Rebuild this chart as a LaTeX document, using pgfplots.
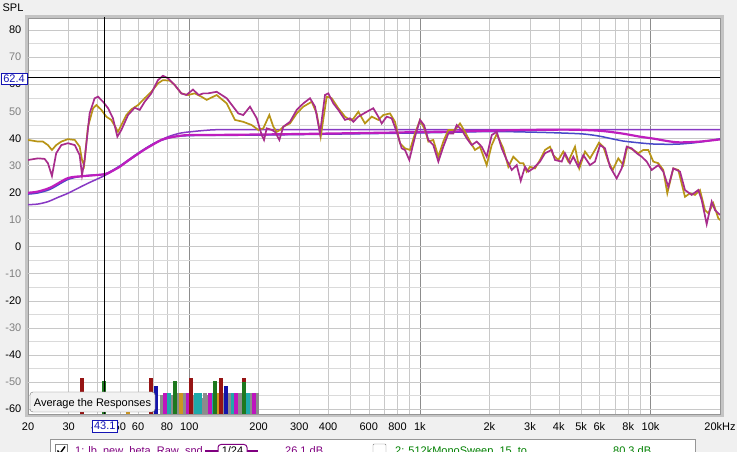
\documentclass[border=0pt]{standalone}
\usepackage{pgfplots}
\pgfplotsset{compat=1.18}
\usepackage{fontspec}
\setmainfont{Liberation Sans}
\definecolor{bgc}{RGB}{240,240,240}
\definecolor{shadowc}{RGB}{196,196,196}
\definecolor{framec}{RGB}{150,150,150}
\definecolor{gridc}{RGB}{200,200,200}
\definecolor{gridlc}{RGB}{218,218,218}
\definecolor{decadec}{RGB}{140,140,140}
\definecolor{goldc}{RGB}{184,148,22}
\definecolor{rawmag}{RGB}{168,44,140}
\definecolor{smag}{RGB}{190,30,190}
\definecolor{spurple}{RGB}{136,56,196}
\definecolor{sblue}{RGB}{72,72,200}
\definecolor{bdarkred}{RGB}{150,20,20}
\definecolor{bgreen}{RGB}{30,120,30}
\definecolor{bblue}{RGB}{20,20,170}
\definecolor{bmag}{RGB}{190,20,190}
\definecolor{bteal}{RGB}{30,170,170}
\definecolor{bgold}{RGB}{205,150,30}
\definecolor{bgray}{RGB}{140,140,140}
\definecolor{tipborder}{RGB}{118,118,118}
\definecolor{tipfill}{RGB}{242,242,242}
\definecolor{curblue}{RGB}{20,20,180}
\definecolor{legpurple}{RGB}{128,0,128}
\definecolor{leggreen}{RGB}{0,128,0}
\begin{document}
\begin{tikzpicture}[x=1pt,y=1pt,font=\fontsize{11}{13}\selectfont]
\begin{scope}
\clip (0,0) rectangle (737,452);
\fill[bgc] (0,0) rectangle (737,452);
\fill[shadowc] (25,35) rectangle (724,437);
\begin{axis}[
  at={(28pt,38pt)}, anchor=south west, scale only axis,
  width=692pt, height=396pt,
  xmode=log, xmin=20, xmax=20000, ymin=-61.84, ymax=84.45,
  axis background/.style={fill=white},
  axis line style={draw=framec},
  tick style={draw=none}, major tick length=0pt, minor tick length=0pt,
  xtick={100,1000,10000}, xticklabels={,,},
  minor xtick={20,30,40,50,60,70,80,90,200,300,400,500,600,700,800,900,2000,3000,4000,5000,6000,7000,8000,9000},
  extra x ticks={20,30,40,50,60,80,100,200,300,400,600,800,1000,2000,3000,4000,5000,6000,8000,10000,20000},
  extra x tick labels={20,30,40,50,60,80,100,200,300,400,600,800,1k,2k,3k,4k,5k,6k,8k,10k,20kHz},
  extra x tick style={grid=none},
  xticklabel style={anchor=north, inner sep=0pt, yshift=-8pt, text height=8pt, text depth=0pt},
  ytick={-60,-40,-20,0,20,40,60,80},
  yticklabels={-60,-40,-20,0,20,40,60,80},
  extra y ticks={-50,-30,-10,10,30,50,70},
  extra y tick labels={-50,-30,-10,10,30,50,70},
  extra y tick style={yticklabel style={text=gray}},
  minor ytick={-55,-45,-35,-25,-15,-5,5,15,25,35,45,55,65,75},
  yticklabel style={anchor=east, inner sep=0pt, xshift=-6.5pt},
  grid=both,
  major x grid style={draw=decadec},
  minor x grid style={draw=gridc},
  major y grid style={draw=gridc},
  minor y grid style={draw=gridlc},
  unbounded coords=jump,
]
% ---- bars (peak markers), one segment per bar, separated by nan ----
\addplot[bgray, line width=4pt] coordinates {(76,-61.84)(76,-55)(76,nan)(84,-61.84)(84,-55)(84,nan)(89.4,-61.84)(89.4,-54)(89.4,nan)(95.9,-61.84)(95.9,-54)(95.9,nan)(104,-61.84)(104,-55)(104,nan)(109,-61.84)(109,-55)(109,nan)(114.7,-61.84)(114.7,-55.8)(114.7,nan)(117.1,-61.84)(117.1,-54)(117.1,nan)(120,-61.84)(120,-55)(120,nan)(136,-61.84)(136,-54)(136,nan)(141,-61.84)(141,-54)(141,nan)(148.7,-61.84)(148.7,-54)(148.7,nan)(152,-61.84)(152,-54)(152,nan)(157,-61.84)(157,-54)(157,nan)(162,-61.84)(162,-54)(162,nan)(166.0,-61.84)(166.0,-54)(166.0,nan)(170,-61.84)(170,-54)(170,nan)(176,-61.84)(176,-54)(176,nan)(183,-61.84)(183,-54)(183,nan)(187,-61.84)(187,-54)(187,nan)(194,-61.84)(194,-54)(194,nan)(197,-61.84)(197,-54)};
\addplot[bgold, line width=4pt] coordinates {(54.3,-61.84)(54.3,-56)(54.3,nan)(92.1,-61.84)(92.1,-54)(92.1,nan)(133.3,-61.84)(133.3,-54)};
\addplot[bteal, line width=4pt] coordinates {(81.7,-61.84)(81.7,-54)(81.7,nan)(106.9,-61.84)(106.9,-54)(106.9,nan)(111.4,-61.84)(111.4,-54)(111.4,nan)(125.5,-61.84)(125.5,-54)(125.5,nan)(154.8,-61.84)(154.8,-54)(154.8,nan)(179.8,-61.84)(179.8,-54)};
\addplot[bmag, line width=4pt] coordinates {(78.5,-61.84)(78.5,-54)(78.5,nan)(98.8,-61.84)(98.8,-54)(98.8,nan)(123.1,-61.84)(123.1,-54)(123.1,nan)(159.5,-61.84)(159.5,-54)(159.5,nan)(190.9,-61.84)(190.9,-54)};
\addplot[bblue, line width=4pt] coordinates {(71.8,-61.84)(71.8,-51.5)(71.8,nan)(144.3,-61.84)(144.3,-51.5)};
\addplot[bdarkred, line width=4pt] coordinates {(34.3,-61.84)(34.3,-48.65)(34.3,nan)(68.3,-61.84)(68.3,-48.65)(68.3,nan)(101.8,-61.84)(101.8,-48.65)(101.8,nan)(137.3,-61.84)(137.3,-48.65)(137.3,nan)(172.8,-61.84)(172.8,-48.65)};
\addplot[bgreen, line width=4pt] coordinates {(42.7,-61.84)(42.7,-49.5)(42.7,nan)(86.8,-61.84)(86.8,-49.5)(86.8,nan)(129.4,-61.84)(129.4,-49.5)(129.4,nan)(172.8,-61.84)(172.8,-50.2)};
% ---- smoothed curves ----
\addplot[spurple, line width=1.5pt, smooth] coordinates {(20,15.5)(22,15.7)(24.4,16.6)(27,18.2)(29.8,19.7)(33,21.6)(36.4,23.4)(40,25)(43.3,26.4)(48,28.6)(54.3,31.6)(60,34.2)(64.1,35.9)(70,38)(75.7,39.5)(82.3,40.8)(91.2,41.9)(100.8,42.4)(120,43)(140,43.2)(300,43.2)(1000,43.2)(5000,43.2)(20000,43.2)};
\addplot[sblue, line width=1.5pt, smooth] coordinates {(20,19.4)(22,19.8)(25,21.2)(29.8,24.8)(34.3,26)(38,26.4)(43.3,26.9)(50,29.8)(60,34.5)(70,38)(82,40.2)(100,41)(200,41.2)(1000,42)(2000,42.5)(3000,42.3)(4000,42)(5110,41.6)(6000,40.8)(7000,39.6)(7600,39)(9000,38.3)(10276,37.9)(12000,37.8)(13400,37.9)(16000,38.5)(20000,39.8)};
\addplot[smag, line width=2.2pt, smooth] coordinates {(20,19.9)(22,20.3)(25,21.8)(29.8,25.3)(34.3,26)(38,26.3)(43.3,26.8)(46,27.8)(50,29.5)(54.3,31.8)(60,34.3)(64.1,35.9)(70,37.8)(75.7,39.4)(82.3,40.3)(91,40.9)(100,41.2)(150,41.3)(300,41.6)(1000,42.3)(2000,42.8)(3000,43.1)(4500,43.2)(6000,42.8)(7500,41.8)(9000,40.6)(10276,39.9)(12000,38.9)(13400,38.5)(16400,38.8)(20000,39.6)};
% ---- raw responses ----
\addplot[goldc, line width=1.7pt] coordinates {(20,39.4)(22.1,38.8)(23.2,38.8)(24.4,37.5)(25.4,35.7)(26.5,37.5)(27.9,38.8)(29.8,39.7)(31.9,39.4)(33.5,36.9)(34.3,32)(35.0,30)(36.4,44.3)(38.3,51.1)(39.6,52.3)(41.6,50.5)(43.7,48)(45.9,46.8)(47.8,44.3)(49.1,42.4)(50.8,44.9)(53.4,48.6)(56.1,50.7)(60.0,52.3)(64.1,54.8)(68.5,57.2)(73.2,60.3)(76.9,61.5)(82.3,61.3)(86.5,59.7)(92.4,56.6)(98.8,56)(105.6,56.6)(112.8,55.4)(119.1,54.2)(131.5,56)(145.4,52.9)(157.9,46.8)(171.5,46.1)(186.6,44.9)(199.3,43.1)(209.5,43.7)(222.4,48.6)(231.5,44.3)(239.5,42.4)(247.5,43.1)(255.8,44.3)(273.4,45.5)(292.4,49.2)(312.3,51.7)(339.6,53.5)(357,49.2)(371.5,40.6)(394.5,55.4)(414.7,54.8)(442.9,51.1)(473.5,48)(497.7,46.8)(514.4,47.2)(540.7,49.8)(578.1,45.5)(618.1,48)(660.1,46.8)(693.9,48.6)(741.9,49.2)(779.9,46.1)(819.8,38.2)(861.8,36.3)(905.9,35.7)(952.3,41.8)(1001,46.8)(1052,43.1)(1088,38.8)(1143,39.4)(1202,33.2)(1263,38.8)(1328,43.1)(1420,43.1)(1492,45.5)(1569,42.4)(1649,38.8)(1733,35.7)(1822,36.9)(1948,30.1)(2048,37.5)(2153,41.6)(2299,36.3)(2417,29.5)(2541,33.2)(2717,30.8)(2808,30.8)(2904,27.7)(3002,29.5)(3155,28.9)(3316,32)(3486,35.7)(3664,36.9)(3787,33.8)(3981,32)(4184,35.1)(4398,31.4)(4703,36.9)(4910,28.9)(5197,35.1)(5463,32.6)(5742,35.7)(5976,38.4)(6238,36.9)(6558,31.4)(6852,28.3)(7246,32.6)(7617,30.1)(7927,36.9)(8414,35.7)(8846,34.5)(9298,35.7)(9776,35.7)(10276,31.4)(10802,30.8)(11354,28.3)(11817,19.7)(12545,28.9)(13188,28.3)(14099,18.4)(14821,19.7)(15580,19.1)(16377,20.9)(17216,13.5)(17793,12.3)(18704,16)(19661,10.5)(20000,9.8)};
\addplot[rawmag, line width=1.7pt] coordinates {(20,32)(22.1,32.6)(23.6,32.4)(24.4,30.8)(25.4,26.1)(26.5,34.5)(27.9,37.5)(29.8,38.2)(31.9,37.5)(33.5,33.8)(34.3,26.4)(35.2,32)(37.0,49.2)(38.9,54.8)(40.2,55.4)(42.3,53.5)(44.5,51.1)(46.7,47.4)(48.8,40.6)(50.8,43.1)(54.3,48.6)(58.0,51.3)(61.0,50.5)(64.1,53.5)(68.5,56.6)(73.2,61.5)(76.9,63.1)(80.9,62.2)(86.5,59.7)(92.4,56.6)(97.1,56)(103.8,58)(110,56)(115.1,56.6)(120.6,56.6)(131.5,57.2)(145.4,54.8)(163.2,49.2)(171.5,48.6)(183.4,51.7)(196.2,47.4)(206.2,41.2)(211,39.4)(216.7,43.7)(227.8,43.1)(235.4,42.4)(245.8,39.4)(255.8,44.3)(273.4,46.1)(292.4,50.5)(312.3,52.9)(333.9,54.8)(351,51.7)(368.9,41.8)(387.8,56)(400.9,56.6)(421.4,52.9)(442.9,50.5)(473.5,46.8)(497.7,47.4)(514.4,46.1)(540.7,48)(588,49.8)(628.1,51.1)(660.1,48)(682.9,45.5)(717.9,48)(754.6,47.4)(793.2,42.4)(833.8,36.3)(861.8,35.7)(899.6,32)(952.3,40.6)(1001,46.8)(1042,44.9)(1088,39.4)(1143,37.5)(1202,31.4)(1263,36.9)(1328,41.8)(1396,41.8)(1444,44.9)(1518,43.1)(1596,40)(1677,37.5)(1763,38.8)(1854,36.9)(1948,33.2)(2048,41.2)(2153,42.4)(2263,36.3)(2379,32)(2501,28.3)(2629,30.1)(2736,24.3)(2856,29.5)(2951,27.7)(3102,28.9)(3316,31.4)(3486,34.5)(3727,35.7)(3851,32)(4118,31.4)(4256,34.5)(4474,30.8)(4624,33.2)(4861,29.5)(5110,33.8)(5463,30.1)(5742,31.4)(6036,37.5)(6345,36.3)(6670,29.5)(7131,25.2)(7496,28.9)(7880,36.9)(8281,36.3)(8705,34.5)(9151,33.2)(9622,31.4)(10113,28.3)(10802,30.1)(11354,27.7)(11936,22.1)(12545,28.9)(13413,27.7)(14099,20.9)(15075,19.1)(16102,20.9)(16658,17.2)(17511,8.3)(18408,16.6)(19024,13.5)(20000,11.7)};
% ---- cursor lines ----
\addplot[black, line width=0.9pt] coordinates {(43.1,-70)(43.1,90)};
\addplot[black, line width=0.9pt] coordinates {(15,62.4)(25000,62.4)};
\end{axis}
% axis title
\node at (13,444) {SPL};
% cursor value boxes
\node[draw=curblue, fill=white, text=curblue, inner sep=0pt, minimum width=26pt, minimum height=11pt, text height=8pt, text depth=0pt] at (14,373.5) {62.4};
\node[draw=curblue, fill=white, text=curblue, inner sep=0pt, minimum width=25pt, minimum height=12pt, text height=8pt, text depth=0pt] at (104.8,26) {43.1};
% tooltip
\draw[draw=tipborder, fill=tipfill, rounded corners=3pt] (30,40) rectangle (155,60);
\node[anchor=base, inner sep=0pt] at (92.5,45.7) {Average the Responses};
% legend strip (cut off at the bottom)
\draw[draw=framec, fill=white] (50,-10) rectangle (695,13);
\draw[draw=gray, fill=white] (55,-6) rectangle (67,8);
\draw[line width=1.4pt] (57.5,1.5) -- (60,-1.5) -- (65,5.5);
\node[anchor=base west, inner sep=0pt, text=legpurple] at (75,-2.9) {1: lb\_new\_beta\_Raw\_snd};
\draw[legpurple, line width=1.5pt] (205,1) -- (258,1);
\draw[draw=legpurple, line width=1pt, fill=white, rounded corners=3pt] (218,-8) rectangle (247,7.5);
\node[anchor=base, inner sep=0pt] at (232.5,-2.9) {1/24};
\node[anchor=base west, inner sep=0pt, text=legpurple] at (285,-2.9) {26.1 dB};
\draw[draw=gray, fill=white, rounded corners=1pt] (373,-6) rectangle (386,8);
\node[anchor=base west, inner sep=0pt, text=leggreen] at (395,-2.9) {2: 512kMonoSweep\_15\_to};
\node[anchor=base west, inner sep=0pt, text=leggreen] at (613,-2.9) {80.3 dB};
\end{scope}
\pgfresetboundingbox
\useasboundingbox (0,0) rectangle (737,452);
\end{tikzpicture}
\end{document}
